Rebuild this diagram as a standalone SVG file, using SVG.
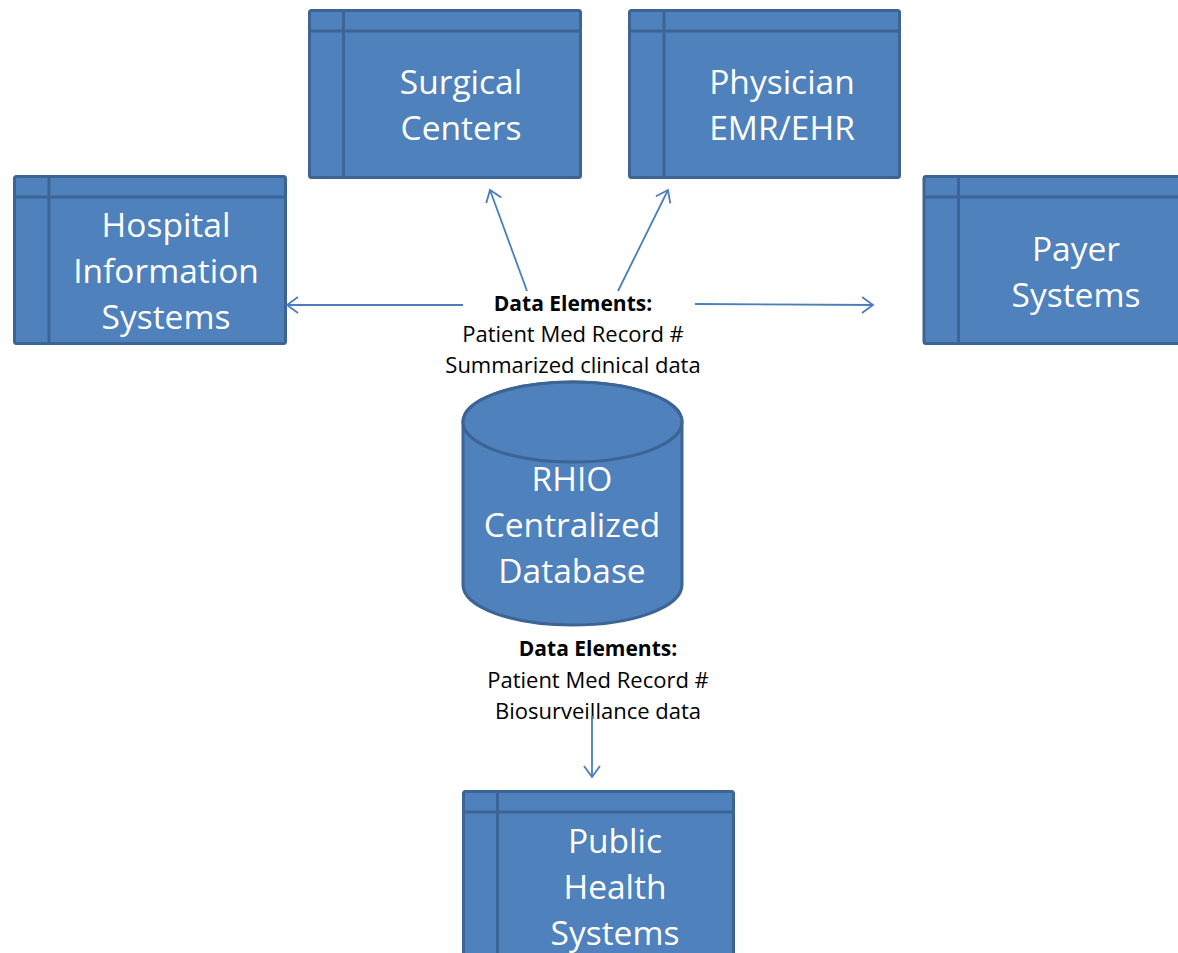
<svg xmlns="http://www.w3.org/2000/svg" width="1178" height="953" viewBox="0 0 1178 953">
<style>
.box{fill:#4f81bd;stroke:#3c6494;stroke-width:3}
.div{stroke:#3c6494;stroke-width:3;fill:none}
.nt{font-family:"Open Sans","Liberation Sans",sans-serif;font-size:33.5px;fill:#ffffff;text-anchor:middle}
.lt{font-family:"Open Sans","Liberation Sans",sans-serif;font-size:22px;fill:#000000;text-anchor:middle}
.lb{font-weight:bold;font-size:21px}
.conn{stroke:#4a7ebb;stroke-width:1.8;fill:none}
</style>
<defs>
<marker id="ah" markerWidth="16" markerHeight="20" refX="13" refY="10" orient="auto" markerUnits="userSpaceOnUse">
<path d="M2,2 L13,10 L2,18" fill="none" stroke="#4a7ebb" stroke-width="1.8"/>
</marker>
</defs>
<rect width="1178" height="953" fill="#ffffff"/>

<g id="surgical">
<rect class="box" x="309.5" y="10.5" width="271" height="167" rx="2"/>
<path class="div" d="M309.5,31 H580.5 M343.5,10.5 V177.5"/>
<text class="nt" x="461" y="94">Surgical</text>
<text class="nt" x="461" y="140">Centers</text>
</g>

<g id="physician">
<rect class="box" x="629.5" y="10.5" width="270" height="167" rx="2"/>
<path class="div" d="M629.5,31 H899.5 M664,10.5 V177.5"/>
<text class="nt" x="782" y="94">Physician</text>
<text class="nt" x="782" y="140">EMR/EHR</text>
</g>

<g id="hospital">
<rect class="box" x="14.5" y="176.5" width="271" height="167" rx="2"/>
<path class="div" d="M14.5,197 H285.5 M49,176.5 V343.5"/>
<text class="nt" x="166" y="237">Hospital</text>
<text class="nt" x="166" y="283">Information</text>
<text class="nt" x="166" y="329">Systems</text>
</g>

<g id="payer">
<rect class="box" x="924" y="176.5" width="262" height="167" rx="2"/>
<path class="div" d="M924,197 H1186 M958.5,176.5 V343.5"/>
<text class="nt" x="1076" y="261">Payer</text>
<text class="nt" x="1076" y="307">Systems</text>
</g>

<g id="rhio">
<path class="box" d="M463,422 V585 A109.5,40 0 0 0 682,585 V422 A109.5,40 0 0 0 463,422 Z"/>
<ellipse class="box" cx="572.5" cy="422" rx="109.5" ry="40"/>
<text class="nt" x="572" y="491">RHIO</text>
<text class="nt" x="572" y="537">Centralized</text>
<text class="nt" x="572" y="583">Database</text>
</g>

<g id="public-health">
<rect class="box" x="463.5" y="791.5" width="270" height="175" rx="2"/>
<path class="div" d="M463.5,812 H733.5 M497.5,791.5 V966"/>
<text class="nt" x="615" y="853">Public</text>
<text class="nt" x="615" y="899">Health</text>
<text class="nt" x="615" y="945">Systems</text>
</g>

<g id="label-top">
<text class="lt lb" x="573" y="311">Data Elements:</text>
<text class="lt" x="573" y="342">Patient Med Record #</text>
<text class="lt" x="573" y="373">Summarized clinical data</text>
</g>

<g id="label-bottom">
<text class="lt lb" x="598" y="656">Data Elements:</text>
<text class="lt" x="598" y="688">Patient Med Record #</text>
<text class="lt" x="598" y="719">Biosurveillance data</text>
</g>

<g id="connectors">
<line class="conn" x1="463" y1="305" x2="287" y2="305" marker-end="url(#ah)"/>
<line class="conn" x1="695" y1="304" x2="873" y2="305" marker-end="url(#ah)"/>
<line class="conn" x1="527" y1="291" x2="490" y2="190" marker-end="url(#ah)"/>
<line class="conn" x1="618" y1="291" x2="668" y2="190" marker-end="url(#ah)"/>
<line class="conn" x1="592" y1="716" x2="592" y2="777" marker-end="url(#ah)"/>
</g>
</svg>
